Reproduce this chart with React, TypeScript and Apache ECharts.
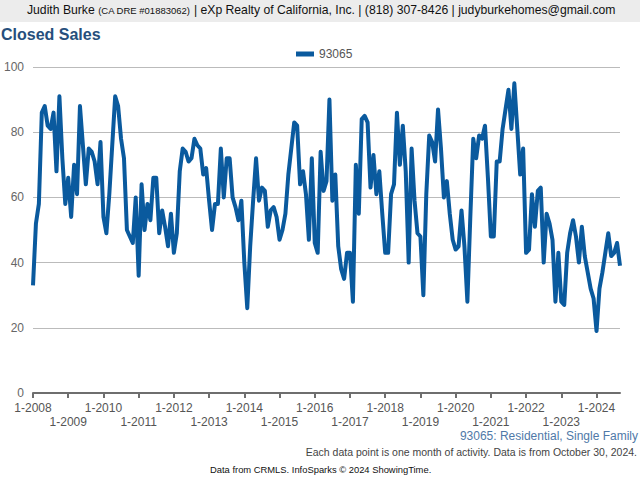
import React, { useEffect, useRef } from "react";
import * as echarts from "echarts";

const startYear = 2008;
const values: number[] = [
  33, 52, 58, 86, 88, 82, 81, 86, 68, 91, 72, 58,
  66, 54, 70, 61, 88, 76, 64, 75, 74, 71, 64, 77,
  54, 49, 61, 76, 91, 88, 78, 72, 50, 48, 46, 60,
  36, 64, 50, 58, 53, 66, 66, 49, 56, 51, 45, 55,
  43, 49, 68, 75, 74, 71, 72, 78, 76, 75, 67, 69,
  59, 50, 58, 58, 75, 60, 72, 72, 60, 57, 53, 59,
  40, 26, 45, 59, 72, 59, 63, 62, 51, 56, 57, 54,
  47, 50, 55, 67, 75, 83, 82, 64, 68, 61, 47, 72,
  46, 43, 74, 62, 65, 90, 59, 67, 45, 38, 35, 43,
  43, 28, 70, 55, 84, 85, 83, 63, 73, 61, 68, 55,
  43, 43, 61, 64, 86, 70, 82, 68, 40, 75, 59, 49,
  48, 30, 61, 79, 77, 71, 87, 75, 60, 65, 55, 47,
  44, 45, 56, 45, 28, 54, 78, 72, 79, 78, 82, 66,
  48, 48, 71, 71, 81, 87, 93, 81, 95, 81, 67, 75,
  43, 44, 61, 51, 62, 63, 40, 55, 52, 47, 28, 43,
  28, 27, 43, 49, 53, 48, 40, 51, 42, 37, 32, 29,
  19, 32, 37, 43, 49, 42, 43, 46, 39,
];
const months: string[] = values.map((_, i) => `${(i % 12) + 1}-${startYear + Math.floor(i / 12)}`);
const seriesName = "93065";
const yTicks = { min: 0, max: 100, interval: 20 };

const headerName = "Judith Burke ";
const headerLicense = "(CA DRE #01883062)";
const headerRest = " | eXp Realty of California, Inc. | (818) 307-8426 | judyburkehomes@gmail.com";
const titleText = "Closed Sales";
const subtitleText = "93065: Residential, Single Family";
const noteText = "Each data point is one month of activity. Data is from October 30, 2024.";
const sourceText = "Data from CRMLS. InfoSparks © 2024 ShowingTime.";

const FONT = "'Liberation Sans', Arial, sans-serif";

export default function App() {
  const ref = useRef<HTMLDivElement>(null);
  useEffect(() => {
    if (!ref.current) return;
    const chart = echarts.init(ref.current, undefined, { renderer: "svg" });
    const labelBase = { fontFamily: FONT, fontSize: 12, color: "#555555" };
    chart.setOption({
      animation: false,
      backgroundColor: "#ffffff",
      title: {
        text: titleText,
        left: 1,
        top: 26,
        padding: 0,
        textStyle: { fontFamily: FONT, fontSize: 16, fontWeight: "bold", color: "#264f7c" },
      },
      legend: {
        data: [seriesName],
        top: 48,
        left: 296,
        padding: 0,
        icon: "rect",
        itemWidth: 18,
        itemHeight: 5,
        itemGap: 6,
        textStyle: { fontFamily: FONT, fontSize: 12, color: "#555555" },
      },
      grid: { left: 33, right: 20, top: 67, bottom: 87, containLabel: false },
      xAxis: [
        {
          type: "category",
          data: months,
          boundaryGap: false,
          axisLine: { lineStyle: { color: "#6e6e6e", width: 2 } },
          axisTick: {
            interval: (i: number) => i % 12 === 0,
            length: 5,
            lineStyle: { color: "#6e6e6e", width: 2 },
          },
          axisLabel: {
            ...labelBase,
            interval: (i: number) => i % 24 === 0,
            showMinLabel: true,
            margin: 9,
          },
          splitLine: { show: false },
        },
        {
          type: "category",
          data: months,
          boundaryGap: false,
          position: "bottom",
          axisLine: { show: false },
          axisTick: { show: false },
          axisLabel: {
            ...labelBase,
            interval: (i: number) => i % 24 === 12,
            margin: 23,
          },
          splitLine: { show: false },
        },
      ],
      yAxis: {
        type: "value",
        min: yTicks.min,
        max: yTicks.max,
        interval: yTicks.interval,
        axisLine: { show: false },
        axisTick: { show: false },
        axisLabel: { fontFamily: FONT, fontSize: 12, color: "#666666", margin: 9 },
        splitLine: { lineStyle: { color: "#bbbbbb", width: 1 } },
      },
      series: [
        {
          name: seriesName,
          type: "line",
          xAxisIndex: 0,
          data: values,
          showSymbol: false,
          symbol: "none",
          lineStyle: { color: "#0a5a9e", width: 4, join: "round" },
          itemStyle: { color: "#0a5a9e" },
        },
      ],
      graphic: [
        { type: "rect", left: 0, top: 0, shape: { width: 640, height: 22 }, style: { fill: "#ececec" }, z: -10 },
        {
          type: "text",
          left: 27,
          top: 4,
          style: {
            text: `{a|${headerName}}{b|${headerLicense}}{a|${headerRest}}`,
            rich: {
              a: { fontFamily: FONT, fontSize: 12.2, fill: "#111111" },
              b: { fontFamily: FONT, fontSize: 9.5, fill: "#111111" },
            },
          },
        },
        {
          type: "text",
          right: 2,
          top: 430,
          style: { text: subtitleText, fontFamily: FONT, fontSize: 12, fill: "#4f79a8" },
        },
        {
          type: "text",
          right: 3,
          top: 446,
          style: { text: noteText, fontFamily: FONT, fontSize: 10.5, fill: "#444444" },
        },
        {
          type: "text",
          left: 210,
          top: 465,
          style: { text: sourceText, fontFamily: FONT, fontSize: 9.4, fill: "#111111" },
        },
      ],
    });
    return () => chart.dispose();
  }, []);
  return (
    <div
      ref={ref}
      style={{ position: "absolute", left: 0, top: 0, width: 640, height: 480 }}
    />
  );
}
